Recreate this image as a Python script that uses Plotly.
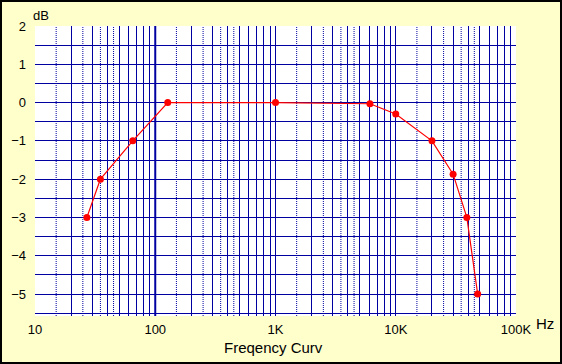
import plotly.graph_objects as go

# Data
freq_hz = [27, 35, 65, 127, 1000, 6100, 10000, 20000, 30000, 39000, 48000]
gain_db = [-3.0, -2.0, -1.0, 0.0, 0.0, -0.03, -0.3, -1.0, -1.87, -3.0, -5.0]

decades = [10, 100, 1000, 10000, 100000]
decade_labels = ["10", "100", "1K", "10K", "100K"]
y_ticks = [-5, -4, -3, -2, -1, 0, 1, 2]

GRID = "#0000A0"

# Grid tick positions derived from decades
major_vals, major_text = [], []
minor_vals = []
for i, d in enumerate(decades):
    if i < len(decades) - 1:
        for m in range(1, 10):
            major_vals.append(d * m)
            major_text.append(decade_labels[i] if m == 1 else "")
        for m in (1.5, 2.5, 3.5, 4.5):
            minor_vals.append(d * m)
    else:
        major_vals.append(d)
        major_text.append(decade_labels[i])

y_vals, y_text = [], []
for t in y_ticks:
    y_vals.append(t)
    y_text.append(str(t).replace("-", "\u2212"))
    y_vals.append(t - 0.5)
    y_text.append("")

fig = go.Figure()
fig.add_trace(go.Scatter(
    x=freq_hz, y=gain_db, mode="lines+markers",
    line=dict(color="#FF0000", width=1.2),
    marker=dict(color="#FF0000", size=7),
    showlegend=False, hoverinfo="skip",
))

L, R, T, B = 35, 46, 26, 48
W, H = 562, 364
pw, ph = W - L - R, H - T - B

shapes = []
for v in minor_vals:
    shapes.append(dict(type="line", xref="x", yref="paper", x0=v, x1=v, y0=0, y1=1,
                       line=dict(color=GRID, width=1, dash="1px,1px"), layer="below"))
shapes.append(dict(type="line", xref="x", yref="paper", x0=decades[1], x1=decades[1],
                   y0=0, y1=1, line=dict(color=GRID, width=2), layer="below"))
shapes.append(dict(type="rect", xref="paper", yref="paper",
                   x0=(1 - L) / pw, x1=(W - 1 - L) / pw,
                   y0=-(H - 1 - T - ph) / ph, y1=1 + (T - 1) / ph,
                   line=dict(color="black", width=2), layer="above"))

fig.update_layout(
    width=W, height=H,
    margin=dict(l=L, r=R, t=T, b=B),
    paper_bgcolor="#FFFFCC",
    plot_bgcolor="white",
    font=dict(family="Liberation Sans, Arial, sans-serif", size=13, color="black"),
    xaxis=dict(
        type="log", range=[1, 5],
        tickmode="array", tickvals=major_vals, ticktext=major_text,
        showgrid=True, gridcolor=GRID, gridwidth=1,
        ticks="", zeroline=False, showline=False,
        ticklabelstandoff=4,
        fixedrange=True,
    ),
    yaxis=dict(
        range=[-5.574, 2],
        tickmode="array", tickvals=y_vals, ticktext=y_text,
        showgrid=True, gridcolor=GRID, gridwidth=1,
        ticks="", zeroline=False, showline=False,
        ticklabelstandoff=8,
        fixedrange=True,
    ),
    shapes=shapes,
    annotations=[
        dict(text="dB", xref="paper", yref="paper", x=(41 - L) / pw, y=1 + (T - 16) / ph,
             showarrow=False, font=dict(size=13), xanchor="center", yanchor="middle"),
        dict(text="Hz", xref="paper", yref="paper", x=(545 - L) / pw, y=-(323 - T - ph) / ph,
             showarrow=False, font=dict(size=15), xanchor="center", yanchor="middle"),
        dict(text="Freqency Curv", xref="paper", yref="paper", x=(273 - L) / pw,
             y=-(347 - T - ph) / ph, showarrow=False, font=dict(size=15),
             xanchor="center", yanchor="middle"),
    ],
)

fig.write_html("out.html", config={"displayModeBar": False},
               post_script="document.body.style.margin='0';")
